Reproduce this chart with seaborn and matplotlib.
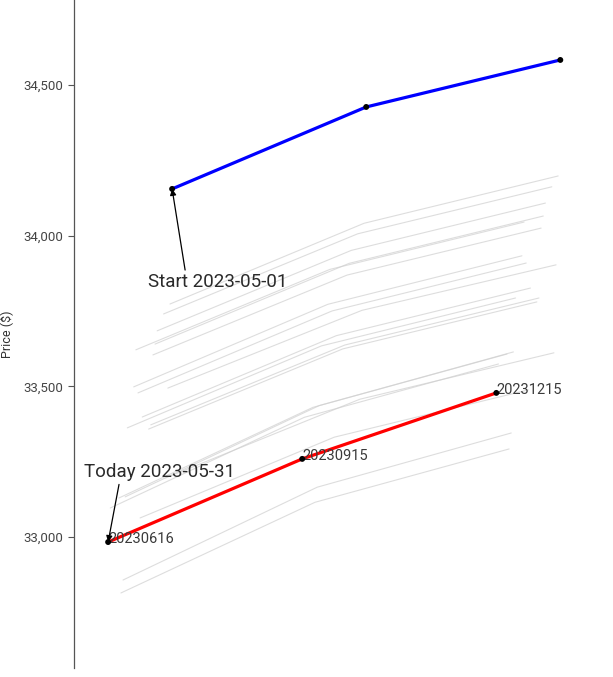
import matplotlib
matplotlib.use("Agg")
import matplotlib.pyplot as plt
import matplotlib.ticker as mticker
import pandas as pd
import seaborn as sns

# contracts (third fridays) and days to expiry of the front contract
contracts = ["20230616", "20230915", "20231215"]
step_days = [0, 91, 182]

start_date = "2023-05-01"
start_days = 46
start_prices = [34155, 34427, 34583]

today_date = "2023-05-31"
today_days = 16
today_prices = [32983, 33259, 33478]

# in-between trading days: front days to expiry, prices of the 3 contracts
mid_dates = ["05-02", "05-03", "05-04", "05-05", "05-08", "05-09", "05-10",
             "05-11", "05-12", "05-15", "05-16", "05-17", "05-18", "05-19",
             "05-22", "05-23", "05-24", "05-25", "05-26", "05-30"]
mid_days = [45, 44, 43, 42, 39, 38, 37, 36, 35, 32, 31, 30, 29, 28,
            25, 24, 23, 22, 21, 17]
mid_front = [33773, 33494, 33196, 33740, 33684, 33640, 33604, 33372, 33358,
             33398, 33063, 33478, 33621, 33498, 33362, 33133, 32857, 32814,
             33129, 33096]
mid_second = [34041, 33752, 33457, 34006, 33951, 33908, 33869, 33637, 33624,
              33668, 33331, 33750, 33888, 33772, 33634, 33436, 33165, 33115,
              33430, 33397]
mid_third = [34198, 33903, 33611, 34162, 34108, 34065, 34025, 33793, 33780,
             33826, 33488, 33909, 34045, 33933, 33793, 33614, 33345, 33292,
             33607, 33574]

rows = []
for i in range(len(mid_dates)):
    prices = [mid_front[i], mid_second[i], mid_third[i]]
    for k in range(3):
        rows.append({"date": mid_dates[i], "days": mid_days[i] + step_days[k],
                     "price": prices[k]})
grey = pd.DataFrame(rows)

start = pd.DataFrame({"days": [start_days + s for s in step_days],
                      "price": start_prices, "contract": contracts})
today = pd.DataFrame({"days": [today_days + s for s in step_days],
                      "price": today_prices, "contract": contracts})

sns.set_style("white")
plt.rcParams["font.family"] = ["Roboto", "DejaVu Sans"]

fig = plt.figure(figsize=(6.13, 6.77), dpi=100)
ax = fig.add_axes([0.1207, 0.0133, 0.8793, 0.9867])

sns.lineplot(data=grey, x="days", y="price", units="date", estimator=None,
             color="#cfcfcf", linewidth=0.8, alpha=0.7, ax=ax, legend=False)
sns.lineplot(data=start, x="days", y="price", color="blue", linewidth=2.3,
             ax=ax, legend=False)
sns.lineplot(data=today, x="days", y="price", color="red", linewidth=2.3,
             ax=ax, legend=False)
sns.scatterplot(data=pd.concat([start, today]), x="days", y="price",
                color="black", s=18, edgecolor="none", zorder=5, ax=ax,
                legend=False)

for _, r in today.iterrows():
    ax.annotate(r["contract"], (r["days"], r["price"]), xytext=(0, -1),
                textcoords="offset points", ha="left", va="baseline",
                fontsize=10.5, color="#3a3a3a")

ax.annotate("Start " + start_date, xy=(start_days, start_prices[0]),
            xytext=(34.7, 33845), fontsize=13.5, color="#2a2a2a",
            va="center", ha="left",
            arrowprops=dict(arrowstyle="-|>", color="black", lw=0.9,
                            mutation_scale=9, shrinkA=0, shrinkB=0,
                            relpos=(0.27, 1.0)))
ax.annotate("Today " + today_date, xy=(today_days, today_prices[0]),
            xytext=(4.5, 33215), fontsize=13.5, color="#2a2a2a",
            va="center", ha="left",
            arrowprops=dict(arrowstyle="-|>", color="black", lw=0.9,
                            mutation_scale=9, shrinkA=0, shrinkB=0,
                            relpos=(0.25, 0.5)))

ax.set_xlim(0, 252.7)
ax.set_ylim(32565, 34782)
ax.set_yticks([33000, 33500, 34000, 34500])
ax.yaxis.set_major_formatter(mticker.StrMethodFormatter("{x:,.0f}"))
ax.set_xticks([])
ax.set_xlabel("")
ax.set_ylabel("Price ($)", fontsize=9, color="#333333", labelpad=8)
ax.set_title("Dow Futures Term Structure ($)", fontsize=12, pad=8)
ax.tick_params(axis="y", length=4, width=0.8, color="#555555",
               labelsize=9.5, labelcolor="#444444", left=True)
sns.despine(ax=ax, top=True, right=True, bottom=True)
ax.spines["left"].set_color("#555555")
ax.spines["left"].set_linewidth(0.9)

fig.savefig("out.png", dpi=100)
